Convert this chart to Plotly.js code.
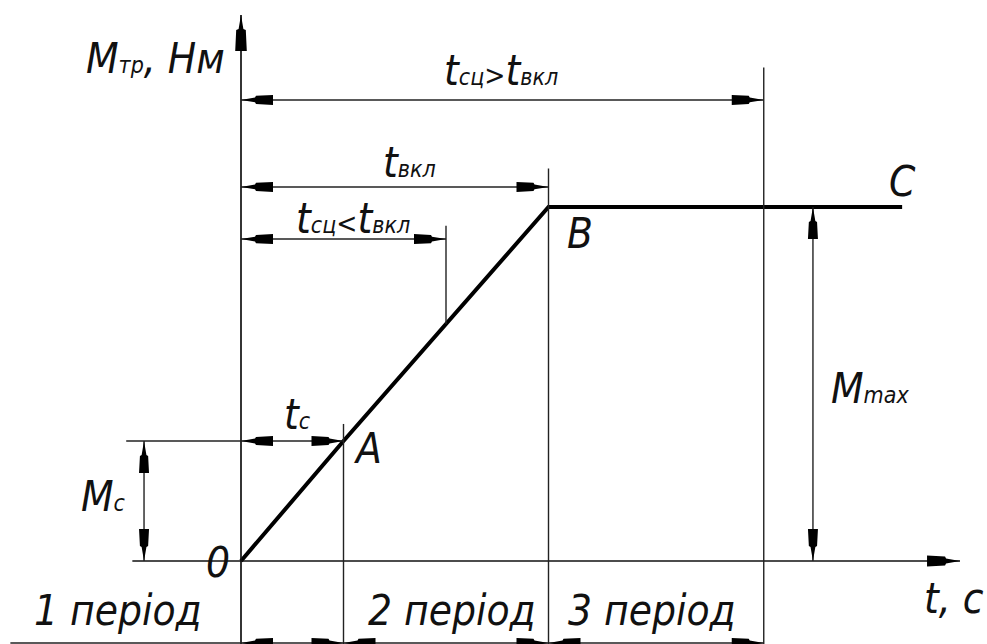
<!DOCTYPE html>
<html>
<head>
<meta charset="utf-8">
<script src="https://cdn.plot.ly/plotly-3.0.1.min.js"></script>
<style>
  html, body { margin: 0; padding: 0; background: #fff; }
  #chart { width: 987px; height: 644px; }
</style>
</head>
<body>
<div id="chart"></div>
<script>
// Friction torque build-up while the clutch engages: 0 -> A -> B, then constant to C
const pointLabels = ['0', 'A', 'B', 'C'];
const timeValues = [0, 1, 3, 6.45];
const torqueValues = [0, 1, 2.95, 2.95];
const slipTimeShort = 2;     // t_сц < t_вкл
const slipTimeLong = 5.1;    // t_сц > t_вкл
const periodLabels = ['1 період', '2 період', '3 період'];
const periodStart = -2.25;

const tC = timeValues[1], tOn = timeValues[2], tEnd = timeValues[3];
const mC = torqueValues[1], mMax = torqueValues[2];

// drawing frame
const X_RANGE = [-2.3512, 7.278];
const Y_RANGE = [-0.6917, 4.675];
const yBottom = Y_RANGE[0];
const xAxisStart = -1.06, xAxisTip = 7.015, yAxisTip = 4.55;
const dimLong = 3.842, dimOn = 3.117, dimShort = 2.683, dimPeriods = -0.683;
const dimMcX = -0.946, dimMaxX = 5.58;

const THIN = { color: '#222', width: 1.4 };
const AXIS = { color: '#111', width: 1.7 };
const shapes = [];

function seg(x0, y0, x1, y1, line) {
  shapes.push({ type: 'line', xref: 'x', yref: 'y', x0, y0, x1, y1, line: line || THIN, layer: 'above' });
}

// drafting arrowhead, tip at (x, y), body measured in pixels
function arrow(x, y, dir, len = 32, hw = 5) {
  const base = [[0, 0], [14, 2.4], [15, hw * 0.82], [len, hw], [len, -hw], [15, -hw * 0.82], [14, -2.4]];
  const rot = {
    left: ([a, b]) => [a, b],
    right: ([a, b]) => [-a, b],
    up: ([a, b]) => [b, -a],
    down: ([a, b]) => [b, a]
  }[dir];
  const pts = base.map(rot);
  const path = 'M' + pts.map(p => p[0].toFixed(1) + ',' + p[1].toFixed(1)).join('L') + 'Z';
  shapes.push({
    type: 'path', xref: 'x', yref: 'y', xsizemode: 'pixel', ysizemode: 'pixel',
    xanchor: x, yanchor: y, path, fillcolor: '#000', line: { width: 0 }, layer: 'above'
  });
}

function dimH(x0, x1, y, withLine = true) {
  if (withLine) seg(x0, y, x1, y);
  arrow(x0, y, 'left');
  arrow(x1, y, 'right');
}
function dimV(x, y0, y1) {
  seg(x, y0, x, y1);
  arrow(x, y0, 'down');
  arrow(x, y1, 'up');
}

// coordinate axes
seg(0, yBottom, 0, yAxisTip, AXIS);
arrow(0, yAxisTip, 'up', 36, 5.8);
seg(xAxisStart, 0, xAxisTip, 0, AXIS);
arrow(xAxisTip, 0, 'right', 33, 5.4);

// extension lines
const mAtShort = mC + (mMax - mC) * (slipTimeShort - tC) / (tOn - tC);
seg(tC, yBottom, tC, mC + 0.142);
seg(tOn, yBottom, tOn, mMax + 0.32);
seg(slipTimeLong, yBottom, slipTimeLong, dimLong + 0.27);
seg(slipTimeShort, mAtShort, slipTimeShort, dimShort + 0.11);
seg(-1.12, mC, tC, mC);

// dimensions
dimH(0, slipTimeLong, dimLong);
dimH(0, tOn, dimOn);
dimH(0, slipTimeShort, dimShort);
dimH(0, tC, mC, false);
dimV(dimMcX, 0, mC);
dimV(dimMaxX, 0, mMax);

// periods along the bottom
const edges = [0, tC, tOn, slipTimeLong];
seg(periodStart, dimPeriods, slipTimeLong, dimPeriods);
for (let i = 0; i < edges.length - 1; i++) dimH(edges[i], edges[i + 1], dimPeriods, false);

// text
const FONT = { family: 'DejaVu Sans Condensed, DejaVu Sans, sans-serif', size: 42, color: '#111', style: 'italic' };
const sub = s => `<span style="font-size:23px">${s}</span>`;
const rel = s => `<span style="font-size:28px">${s}</span>`;
const ann = (text, x, y, xanchor, xshift, yshift) => ({
  text, x, y, xref: 'x', yref: 'y', xanchor, yanchor: 'middle', xshift, yshift,
  showarrow: false, font: FONT
});

const annotations = [
  ann(pointLabels[0], timeValues[0], torqueValues[0], 'right', -9, -1),
  ann(pointLabels[1], tC, mC, 'left', 8, -7),
  ann(pointLabels[2], tOn, mMax, 'left', 16, -26),
  ann(pointLabels[3], tEnd, mMax, 'center', 0, 26),
  ann('M' + sub('тр') + ', Нм', 0, yAxisTip, 'right', -14, -43),
  ann('t, c', xAxisTip, 0, 'right', 26, -37),
  ann('t' + sub('c'), tC / 2, mC, 'center', 5, 27),
  ann('t' + sub('вкл'), tOn / 2, dimOn, 'center', 15, 24),
  ann('t' + sub('сц') + rel('&lt;') + 't' + sub('вкл'), slipTimeShort / 2, dimShort, 'center', 9, 21),
  ann('t' + sub('сц') + rel('&gt;') + 't' + sub('вкл'), slipTimeLong / 2, dimLong, 'center', -1, 29),
  ann('M' + sub('c'), dimMcX, mC / 2, 'right', -16, 5),
  ann('M' + sub('max'), dimMaxX, mMax / 2, 'left', 16, -4),
  ann(periodLabels[0], (periodStart + edges[0]) / 2, dimPeriods, 'center', -8, 32),
  ann(periodLabels[1], (edges[1] + edges[2]) / 2, dimPeriods, 'center', 6, 32),
  ann(periodLabels[2], (edges[2] + edges[3]) / 2, dimPeriods, 'center', -4, 32)
];

const trace = {
  x: timeValues, y: torqueValues, type: 'scatter', mode: 'lines',
  line: { color: '#000', width: 4 }, hoverinfo: 'skip', showlegend: false
};

const layout = {
  width: 987, height: 644,
  margin: { l: 0, r: 0, t: 0, b: 0, pad: 0 },
  paper_bgcolor: '#fff', plot_bgcolor: '#fff',
  xaxis: { range: X_RANGE, visible: false, fixedrange: true },
  yaxis: { range: Y_RANGE, visible: false, fixedrange: true },
  shapes, annotations, showlegend: false
};

Plotly.newPlot('chart', [trace], layout, { staticPlot: true, displayModeBar: false });
</script>
</body>
</html>
